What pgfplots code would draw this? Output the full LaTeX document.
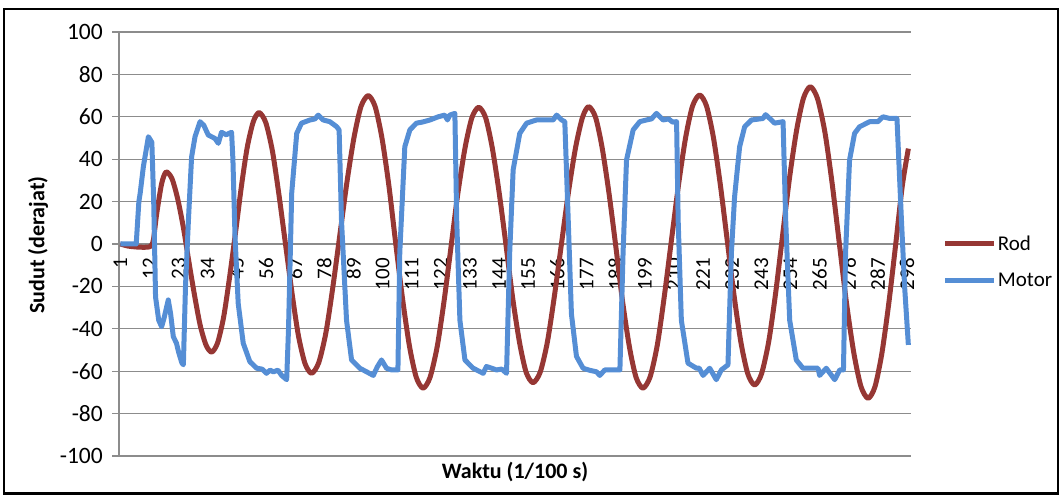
\documentclass[border=0pt]{standalone}
\usepackage{fontspec}
\setmainfont{Carlito}
\usepackage{pgfplots}
\pgfplotsset{compat=1.18}
\definecolor{rodred}{RGB}{150,55,52}
\definecolor{motorblue}{RGB}{85,142,213}
\definecolor{gridgray}{RGB}{140,140,140}
\newcommand{\chartfont}{\fontsize{21}{25}\selectfont}
\newcommand{\yfont}{\fontsize{23.5}{28}\selectfont}
\newcommand{\titlefont}{\fontsize{22}{26}\selectfont\bfseries}
\begin{document}
\begin{tikzpicture}[x=1pt,y=1pt]
\path[use as bounding box] (0,0) rectangle (1062,495);
\draw[line width=2.5pt] (4,1.5) rectangle (1058,486);
\begin{axis}[
  at={(119pt,39pt)}, anchor=south west,
  scale only axis, width=792pt, height=424pt,
  xmin=0.5, xmax=299.5, ymin=-100, ymax=100,
  axis x line=middle, axis y line=left,
  axis line style={-, draw=gridgray, line width=1.2pt},
  ytick={-100,-80,...,100},
  xtick={1,12,...,298},
  ymajorgrids, grid style={draw=gridgray, line width=1.2pt},
  xtick style={draw=none},
  ytick style={draw=gridgray, line width=1.2pt},
  tick align=outside, major tick length=7pt,
  tick label style={font=\chartfont},
  /pgf/number format/assume math mode=true,
  yticklabel style={inner sep=0pt, xshift=-9pt, font=\yfont},
  xticklabel style={yshift=-7pt, rotate=90, anchor=east, inner sep=0pt},
  legend style={at={(axis description cs:1.04,0.458)}, anchor=west, draw=none, fill=none, font=\chartfont, row sep=19pt, inner sep=0pt, nodes={inner sep=1pt}},
  legend cell align=left,
  legend image code/.code={\draw[#1, line width=5pt] (0pt,0pt) -- (49pt,0pt);},
]
\addplot[rodred, line width=5pt, line join=round, smooth, tension=0.45] coordinates {
(1,0) (4,-1) (8,-1.5) (11,-1.5) (12.5,-1) (13.5,2) (14.7,14) (16.6,28.5) (18.3,34)
(20.5,30.8) (22.6,21.6) (24.8,7.8) (26.9,-8.5) (29.1,-24.8) (31.2,-38.6) (33.4,-47.8) (35.5,-51)
(37.7,-46.7) (40,-34.5) (42.2,-16.1) (44.5,5.5) (46.7,27.1) (48.9,45.5) (51.2,57.7) (53.4,62)
(55.9,57.3) (58.4,44) (60.8,24) (63.3,0.5) (65.8,-23) (68.2,-43) (70.7,-56.3) (73.2,-61)
(75.9,-56) (78.6,-41.9) (81.2,-20.6) (83.9,4.5) (86.6,29.6) (89.3,50.8) (91.9,65) (94.6,70)
(97.2,64.8) (99.8,49.8) (102.4,27.4) (104.9,1) (107.5,-25.4) (110.1,-47.8) (112.7,-62.8) (115.3,-68)
(117.9,-63) (120.6,-48.6) (123.2,-27.1) (125.8,-1.8) (128.4,23.6) (131.1,45.1) (133.7,59.5) (136.3,64.5)
(138.9,59.6) (141.4,45.5) (144,24.4) (146.6,-0.5) (149.1,-25.3) (151.7,-46.4) (154.2,-60.5) (156.8,-65.4)
(159.5,-60.5) (162.2,-46.4) (164.8,-25.2) (167.5,-0.3) (170.2,24.6) (172.9,45.7) (175.5,59.8) (177.8,64.8)
(180.4,59.8) (182.9,45.4) (185.5,23.8) (188.1,-1.6) (190.6,-27) (193.2,-48.6) (195.7,-62.9) (198.3,-68)
(201,-62.7) (203.7,-47.8) (206.3,-25.3) (209,1.2) (211.7,27.6) (214.4,50.1) (217,65) (219.7,70.3)
(222.3,65.1) (224.9,50.3) (227.5,28.1) (230.1,1.9) (232.7,-24.3) (235.3,-46.5) (237.9,-61.3) (240.5,-66.5)
(243.1,-61.1) (245.8,-45.9) (248.4,-23.1) (251,3.9) (253.6,30.8) (256.3,53.6) (258.9,68.8) (261.5,74.2)
(264.2,68.6) (267,52.7) (269.7,28.8) (272.4,0.7) (275.1,-27.4) (277.9,-51.3) (280.6,-67.2) (283.3,-72.8)
(285.9,-67.3) (288.5,-51.6) (291.1,-28.1) (293.7,-0.4) (296.2,27.3) (298.5,45)
};
\addlegendentry{Rod}
\addplot[motorblue, line width=5pt, line join=round] coordinates {
(1,0) (7,0) (8,20) (8.5,24) (9.7,36.5) (11.6,50.6) (12.9,48) (13.6,20) (14.3,-25) (15.5,-36) (16.6,-39) (17.5,-35) (19.1,-26.4) (20,-33) (21,-43.7) (22.2,-46.8) (23,-51) (24.2,-56) (24.8,-57)
(25.6,-20) (26.7,11) (27.9,41) (29.2,50.6) (31.1,57.7) (32.5,56) (34.2,51.4) (36.7,49.8) (38,47.5) (39.2,52.7) (41,51.5) (41.7,52) (43,52.7)
(43.5,40) (44.3,3.5) (45.5,-28) (47.4,-46.8) (49.9,-55.5) (52.5,-58.6) (54.5,-59) (56.2,-61) (57.5,-59.5) (58.8,-60.3) (60.5,-59.5) (61.9,-62) (63.8,-64)
(64.5,-40) (65.7,24) (67.6,52.2) (69.4,57) (72.6,58.5) (74.5,59) (75.7,60.8) (77.6,58.5) (80.1,57.7) (82.7,55.3) (83.6,53.8)
(84.5,11) (86.4,-36) (88.3,-54.7) (91.4,-58.6) (94,-60.3) (96.5,-62) (98,-58) (99.6,-54.7) (101.5,-58.6) (103.4,-59.4) (105.8,-59.4)
(106.5,-4) (108.4,45.9) (110.3,53.8) (112.8,57) (115,57.5) (117.9,58.5) (121,60) (123.5,60.8) (124.5,58.5) (125.4,60.8) (127.3,61.6)
(128,11) (129.2,-36) (131.1,-54.7) (134.2,-58.6) (138,-61) (139.2,-57.8) (141,-58.5) (143,-59.4) (145,-59) (146.8,-61)
(148,-4) (149.3,35) (151.8,52.2) (154.4,57) (158.1,58.5) (162,58.5) (164.4,58.5) (165.7,60.8) (167.6,58.5) (168.8,57.7)
(170.1,11) (171.3,-33) (173.2,-53) (175.7,-58.6) (178,-59.5) (180.8,-60.3) (182,-62) (183.9,-59.4) (186,-59.4) (189.6,-59.4)
(190.8,-4) (192.1,39.6) (194.6,53.8) (197.1,57.7) (199.6,58.5) (201.5,59) (203.4,61.6) (205.9,58.5) (208,59) (209.5,57.5) (211,57.7)
(211.6,11) (212.8,-36) (215.3,-56.2) (218.5,-58.6) (219.5,-58.5) (221,-62) (223.5,-58.6) (226,-64) (227.9,-59.4) (230.4,-57)
(231.7,-4) (232.9,22.3) (234.8,45.9) (236.7,55.3) (239.3,58.5) (243.6,59.2) (244.6,61) (246.8,58.5) (248,57) (251.2,57.7)
(252.2,11) (253.7,-36) (256.2,-54.7) (258.7,-58.6) (264.4,-58.6) (265,-62) (267.5,-58.6) (270.7,-64) (272.6,-59.4) (274,-59.4)
(274.8,-4) (276.3,39.6) (278.2,52.2) (280.1,55.3) (283.9,57.7) (287,57.7) (288.9,60) (291.5,59.2) (294.2,59.2)
(295.9,11) (297.1,-20.4) (298.5,-47.6)
};
\addlegendentry{Motor}
\end{axis}
\node[font=\titlefont, rotate=90] at (38,250) {Sudut (derajat)};
\node[font=\titlefont] at (515,23) {Waktu (1/100 s)};
\end{tikzpicture}
\end{document}
